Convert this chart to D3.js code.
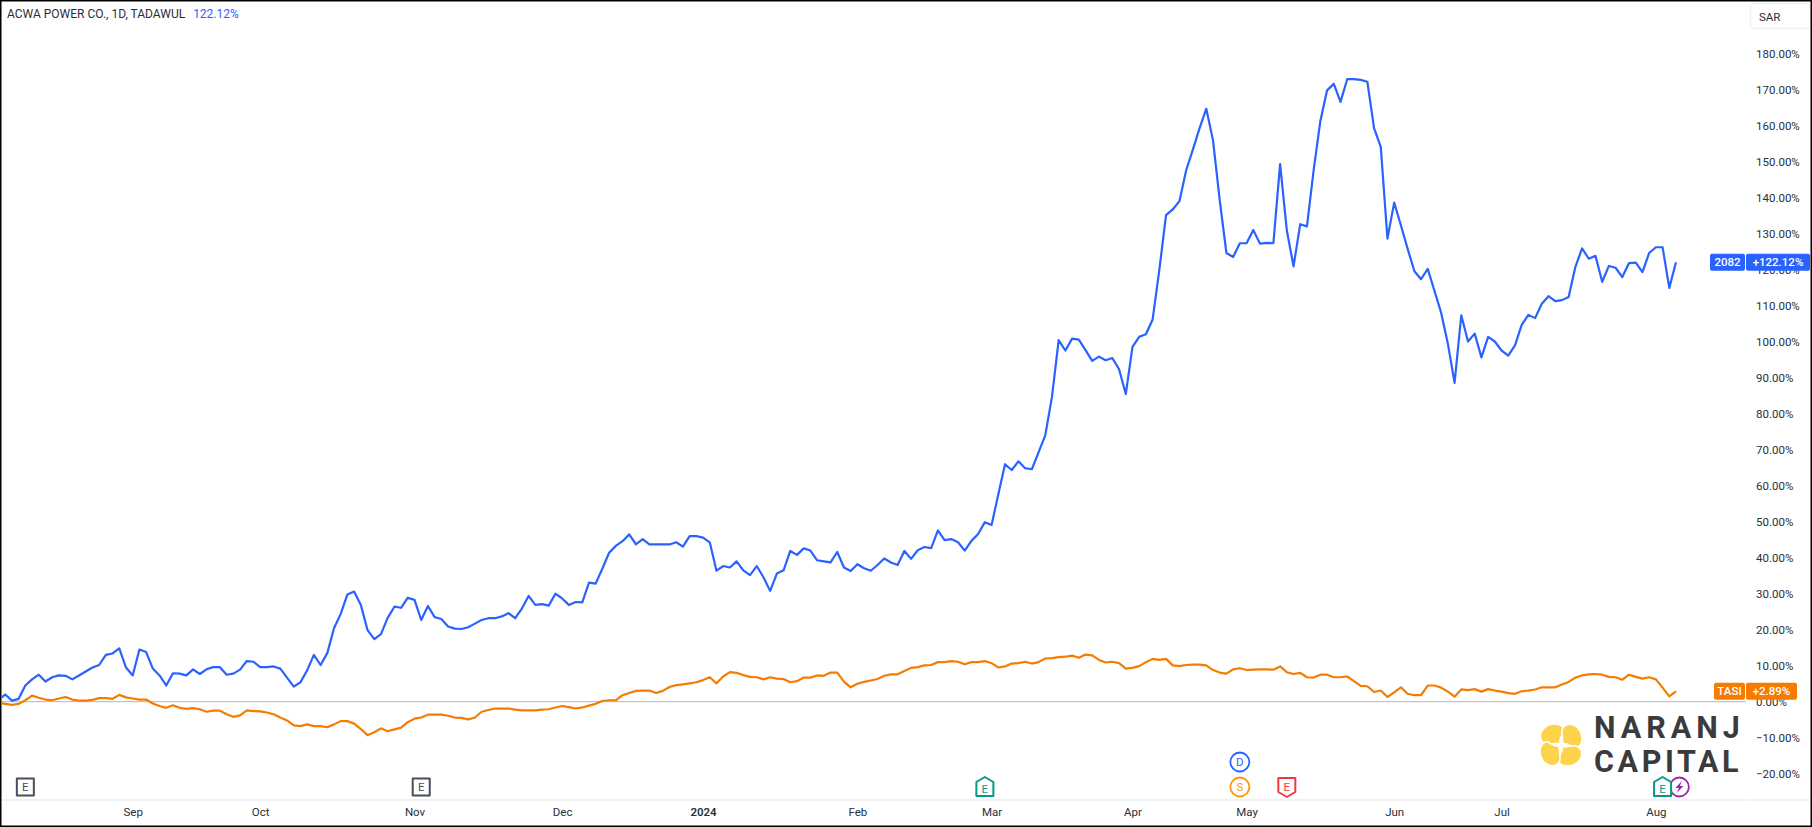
<!DOCTYPE html>
<html>
<head>
<meta charset="utf-8">
<title>ACWA POWER CO. vs TASI</title>
<script src="https://cdn.jsdelivr.net/npm/d3@7"></script>
<style>
  html, body { margin: 0; padding: 0; background: #fff; }
  svg { display: block; }
  text { font-family: Roboto, "Open Sans", sans-serif; }
</style>
</head>
<body>
<div id="chart"></div>
<script>
/* Data: % change per daily bar */
const acwaValues = [
  0.4, 2, 0.3, 0.8, 4.5, 6.2, 7.5, 5.6, 6.8, 7.3,
  7.2, 6.2, 7.3, 8.4, 9.5, 10.2, 13, 13.4, 14.8, 9.5,
  7.3, 14.5, 13.8, 9.2, 7.3, 4.5, 7.9, 7.8, 7.3, 9,
  7.7, 9, 9.6, 9.6, 7.5, 7.8, 8.9, 11.3, 11.1, 9.6,
  9.6, 9.8, 9.2, 6.7, 4.2, 5.4, 8.7, 13, 10.2, 13.5,
  20.4, 24.4, 29.8, 30.6, 26.9, 19.9, 17.4, 18.8, 23.3, 26.4,
  26.1, 28.9, 28.3, 22.7, 26.6, 23.5, 23, 20.9, 20.3, 20.2,
  20.7, 21.7, 22.7, 23.2, 23.2, 23.7, 24.6, 23.2, 25.9, 29.4,
  26.9, 27.1, 26.7, 30, 28.7, 26.9, 27.7, 27.6, 33.1, 32.8,
  37, 41.4, 43.3, 44.6, 46.5, 43.7, 45.2, 43.7, 43.7, 43.7,
  43.7, 44.3, 43.1, 46, 46, 45.6, 44.3, 36.4, 37.7, 37.3,
  39, 36.5, 35.2, 37.7, 34.6, 30.8, 35.6, 36.5, 41.9, 40.8,
  42.6, 42, 39.3, 39, 38.7, 41.6, 37.3, 36.3, 38.2, 37.1,
  36.4, 38, 39.8, 38.7, 38, 41.9, 39.7, 42.1, 43, 42.7,
  47.6, 44.9, 45.2, 44.3, 42, 44.7, 46.6, 49.9, 49.1, 57.6,
  66, 64.4, 66.8, 64.9, 64.6, 69.3, 74, 84.7, 100.5, 97.6,
  100.9, 100.6, 97.7, 94.7, 95.9, 94.9, 95.5, 92.4, 85.5, 98.6,
  101.4, 102.1, 106.2, 120, 135.2, 136.8, 139.1, 147.7, 153.4, 159.4,
  164.8, 156, 139.4, 124.7, 123.6, 127.4, 127.4, 131.1, 127.3, 127.5,
  127.4, 149.4, 131, 121, 132.7, 132.1, 147.7, 161.4, 169.9, 171.7,
  166.7, 173, 173, 172.8, 172.3, 159.4, 154.2, 128.7, 138.7, 132.4,
  125.9, 119.7, 117.4, 120.3, 114.2, 108.1, 99.5, 88.6, 107.4, 100.1,
  102.3, 95.7, 101.4, 100.1, 97.6, 96.2, 99, 104.7, 107.5, 106.6,
  110.6, 112.7, 111.3, 111.6, 112.5, 120.8, 126, 123.1, 123.9, 116.7,
  121.1, 120.6, 118, 121.9, 122, 119.4, 124.7, 126.3, 126.3, 115, 122.12
];

const tasiValues = [
  -0.3, -0.6, -0.9, -0.6, 0.4, 1.7, 1.1, 0.6, 0.4, 0.9,
  1.3, 0.6, 0.3, 0.3, 0.5, 1, 1, 0.8, 1.9, 1.2,
  0.9, 0.6, 0.6, -0.5, -1.2, -1.7, -1, -1.7, -2, -1.8,
  -2.1, -2.8, -2.5, -2.5, -3.5, -4.2, -3.8, -2.4, -2.6, -2.7,
  -3, -3.5, -4.4, -5.2, -6.6, -6.8, -6.3, -6.8, -6.8, -7.1,
  -6.3, -5.4, -5.4, -6.1, -7.6, -9.3, -8.5, -7.4, -8.2, -7.7,
  -7.2, -5.7, -4.7, -4.4, -3.6, -3.6, -3.6, -3.9, -4.4, -4.5,
  -4.9, -4.4, -2.8, -2.3, -1.9, -1.9, -1.9, -2.2, -2.4, -2.4,
  -2.4, -2.2, -2.1, -1.6, -1.2, -1.5, -1.9, -1.6, -1.1, -0.6,
  0.2, 0.4, 0.4, 1.8, 2.4, 3, 3.1, 3.1, 2.4, 3,
  4.1, 4.6, 4.8, 5.1, 5.4, 6, 6.8, 5.1, 7, 8.2,
  8, 7.4, 6.9, 6.8, 6.2, 6.8, 6.4, 6.3, 5.4, 5.7,
  6.7, 6.7, 7.3, 7.2, 8.1, 8.1, 5.6, 4, 5, 5.5,
  5.9, 6.3, 7.2, 7.6, 7.6, 8.5, 9.4, 9.6, 10.1, 10.2,
  11, 11, 11.3, 11.1, 10.4, 11, 11, 11.3, 10.7, 9.5,
  9.8, 10.6, 10.7, 11.1, 10.6, 11, 12, 12.1, 12.4, 12.5,
  12.8, 12.2, 13.1, 12.9, 11.6, 10.9, 11.1, 10.7, 9.2, 9.4,
  9.9, 11, 11.9, 11.6, 11.9, 10.1, 9.9, 10.2, 10.3, 10.3,
  10.1, 8.8, 8.1, 7.8, 9, 9.3, 8.8, 8.9, 9, 9,
  8.9, 9.8, 8.2, 7.7, 8, 6.8, 6.7, 7.5, 7.5, 6.8,
  6.8, 7, 5.7, 4.4, 4.3, 2.7, 3.1, 1.3, 2.6, 4,
  2.2, 1.8, 1.8, 4.5, 4.5, 3.9, 2.8, 1.4, 3.4, 3.2,
  3.5, 2.8, 3.5, 3.1, 2.8, 2.4, 2.2, 2.9, 3.1, 3.4,
  4, 4, 4, 4.8, 5.5, 6.7, 7.3, 7.6, 7.7, 7.5,
  6.9, 6.8, 6.1, 7.5, 6.9, 6.4, 6.8, 6.2, 3.9, 1.5, 2.89
];

const priceTicks = [180, 170, 160, 150, 140, 130, 120, 110, 100, 90, 80, 70, 60, 50, 40, 30, 20, 10, 0, -10, -20];
const timeLabels = ["Sep", "Oct", "Nov", "Dec", "2024", "Feb", "Mar", "Apr", "May", "Jun", "Jul", "Aug"];
const timeBars = [20, 39, 62, 84, 105, 128, 148, 169, 186, 208, 224, 247];

// Event badges: bar index, colour, badge shape
const splitEvents = [[4, "#4a4e5c", "square"], [63, "#4a4e5c", "square"], [147, "#089981", "up"], [192, "#f23645", "down"], [248, "#089981", "up"]];
const dividendBars = [185];
const stockBars = [185];
const flashBars = [250.5];

/* Variables */
const blue = "#2962ff";
const orange = "#f57c00";
const labelColor = "#2a2e39";
const width = 1812;
const height = 827;
const paneRight = 1746;
const axisLine = 800;
const lowRow = 787;
const highRow = 762;

const x = d3.scaleLinear().domain([0, 250]).range([-1.5, 1676]);
const y = d3.scaleLinear().domain([0, 180]).range([701.7, 54]);

const svg = d3.select("#chart").append("svg")
  .attr("width", width)
  .attr("height", height);

svg.append("defs").append("clipPath").attr("id", "pane")
  .append("rect")
    .attr("x", 2).attr("y", 2)
    .attr("width", paneRight - 2).attr("height", axisLine - 2);

/* Axes */
function drawAxes() {
  const yAxis = d3.axisRight(y)
    .tickValues(priceTicks)
    .tickSize(0)
    .tickPadding(0)
    .tickFormat(d => (d < 0 ? "\u2212" + (-d).toFixed(2) : d.toFixed(2)) + "%");

  svg.append("g")
    .attr("transform", "translate(1756,0)")
    .call(yAxis)
    .call(g => g.select(".domain").remove())
    .selectAll("text")
      .attr("font-family", "Roboto")
      .attr("font-size", 11.5)
      .attr("fill", labelColor);

  const xAxis = d3.axisBottom(x)
    .tickValues(timeBars)
    .tickSize(0)
    .tickPadding(0)
    .tickFormat((d, i) => timeLabels[i]);

  svg.append("g")
    .attr("transform", "translate(0,808)")
    .call(xAxis)
    .call(g => g.select(".domain").remove())
    .selectAll("text")
      .attr("font-family", "Roboto")
      .attr("font-size", 11.5)
      .attr("font-weight", d => d === 105 ? 600 : 400)
      .attr("fill", labelColor);

  // bottom rule has a small gap where the price scale begins
  svg.append("line").attr("x1", 2).attr("x2", paneRight - 1)
    .attr("y1", axisLine).attr("y2", axisLine).attr("stroke", "#e0e3eb");
  svg.append("line").attr("x1", paneRight).attr("x2", width - 2)
    .attr("y1", axisLine).attr("y2", axisLine).attr("stroke", "#e0e3eb");
}

/* Lines */
function drawLines() {
  svg.append("line")
    .attr("x1", 2).attr("x2", paneRight)
    .attr("y1", y(0)).attr("y2", y(0))
    .attr("stroke", "#b2b5be")
    .attr("stroke-width", 1);

  const line = d3.line().x((d, i) => x(i)).y(d => y(d));

  const plot = svg.append("g").attr("clip-path", "url(#pane)");
  plot.append("path").datum(tasiValues)
    .attr("d", line).attr("fill", "none").attr("stroke", orange)
    .attr("stroke-width", 2.2).attr("stroke-linejoin", "round");
  plot.append("path").datum(acwaValues)
    .attr("d", line).attr("fill", "none").attr("stroke", blue)
    .attr("stroke-width", 2.2).attr("stroke-linejoin", "round");
}

/* Header and SAR button */
function drawHeader() {
  const head = svg.append("text")
    .attr("x", 7).attr("y", 17.5)
    .attr("font-size", 12)
    .attr("fill", labelColor);
  head.append("tspan").text("ACWA POWER CO., 1D, TADAWUL");
  head.append("tspan").attr("dx", 8).attr("fill", blue).text("122.12%");

  svg.append("rect")
    .attr("x", 1750.5).attr("y", 3.5)
    .attr("width", 60).attr("height", 25).attr("rx", 3)
    .attr("fill", "#fff").attr("stroke", "#f0f3fa").attr("stroke-width", 1.5);
  svg.append("text")
    .attr("x", 1759).attr("y", 20.5)
    .attr("font-size", 11.5).attr("fill", labelColor)
    .text("SAR");
}

/* Last value tags on the price scale */
function drawTag(name, nameLeft, valueText, valueRight, value, color) {
  const top = y(value) - 8.5;
  const g = svg.append("g");
  g.append("rect").attr("x", nameLeft).attr("y", top)
    .attr("width", paneRight - 1 - nameLeft).attr("height", 17).attr("rx", 2).attr("fill", color);
  g.append("rect").attr("x", paneRight).attr("y", top)
    .attr("width", valueRight - paneRight).attr("height", 17).attr("rx", 2).attr("fill", color);
  g.append("text").attr("x", (nameLeft + paneRight - 1) / 2).attr("y", top + 12.5)
    .attr("text-anchor", "middle").attr("font-size", 11.5).attr("font-weight", 500).attr("fill", "#fff").text(name);
  g.append("text").attr("x", (paneRight + valueRight) / 2).attr("y", top + 12.5)
    .attr("text-anchor", "middle").attr("font-size", 11.5).attr("font-weight", 500).attr("fill", "#fff").text(valueText);
}

/* Event badges along the bottom */
function drawEvents() {
  // purple flash sits behind the last earnings badge
  flashBars.forEach(bar => {
    const g = svg.append("g").attr("transform", "translate(" + x(bar) + "," + lowRow + ")");
    g.append("circle").attr("r", 9.5).attr("fill", "#fff").attr("stroke", "#9c27b0").attr("stroke-width", 1.8);
    g.append("path").attr("d", "M2.5,-6 L-4,1 L-0.5,1 L-2.5,6 L4,-1 L0.5,-1 Z").attr("fill", "#9c27b0");
  });

  const shapes = {
    square: "M-8.5,-8.5 H8.5 V8.5 H-8.5 Z",
    up: "M0,-10 L8.5,-5 V9 H-8.5 V-5 Z",
    down: "M-8.5,-9 H8.5 V5 L0,10 L-8.5,5 Z"
  };
  splitEvents.forEach(ev => {
    const g = svg.append("g").attr("transform", "translate(" + x(ev[0]) + "," + lowRow + ")");
    g.append("path").attr("d", shapes[ev[2]])
      .attr("fill", "#fff").attr("stroke", ev[1]).attr("stroke-width", 2).attr("stroke-linejoin", "round");
    g.append("text").attr("y", ev[2] === "up" ? 5.5 : 4).attr("text-anchor", "middle")
      .attr("font-size", 11.5).attr("fill", ev[1]).text("E");
  });

  function badge(bar, row, color, letter) {
    const g = svg.append("g").attr("transform", "translate(" + x(bar) + "," + row + ")");
    g.append("circle").attr("r", 9.5).attr("fill", "#fff").attr("stroke", color).attr("stroke-width", 1.8);
    g.append("text").attr("y", 4).attr("text-anchor", "middle")
      .attr("font-size", 11.5).attr("fill", color).text(letter);
  }
  dividendBars.forEach(bar => badge(bar, highRow, blue, "D"));
  stockBars.forEach(bar => badge(bar, lowRow, "#ff9800", "S"));
}

/* Naranj Capital logo, bottom right */
function drawLogo() {
  const logo = svg.append("g").attr("transform", "translate(1561,745)");
  d3.range(4).forEach(i => {
    logo.append("path")
      .attr("d", "M-1,-2 C-8,-2 -17,2 -20,-5 C-23,-14 -15,-21 -6,-21 C0,-21 4,-17 3,-13 C1,-9 -2,-7 -1,-2 Z")
      .attr("transform", "rotate(" + (i * 90) + ")")
      .attr("fill", "#fdd34b")
      .attr("stroke", "#fff")
      .attr("stroke-width", 1.6);
  });

  [["NARANJ", 738, 5], ["CAPITAL", 772, 3.6]].forEach(row => {
    svg.append("text")
      .attr("x", 1594).attr("y", row[1])
      .attr("font-family", "Open Sans")
      .attr("font-size", 30.5)
      .attr("font-weight", 700)
      .attr("letter-spacing", row[2])
      .attr("fill", "#3b3b3b")
      .text(row[0]);
  });
}

/* Frame */
function drawFrame() {
  svg.append("rect")
    .attr("x", 0.75).attr("y", 0.75)
    .attr("width", width - 1.5).attr("height", height - 1.5)
    .attr("fill", "none").attr("stroke", "#000").attr("stroke-width", 1.5);
}

drawAxes();
drawLines();
drawLogo();
drawEvents();
drawTag("2082", 1710, "+122.12%", 1810, acwaValues[acwaValues.length - 1], blue);
drawTag("TASI", 1714, "+2.89%", 1797, tasiValues[tasiValues.length - 1], orange);
drawHeader();
drawFrame();
</script>
</body>
</html>
